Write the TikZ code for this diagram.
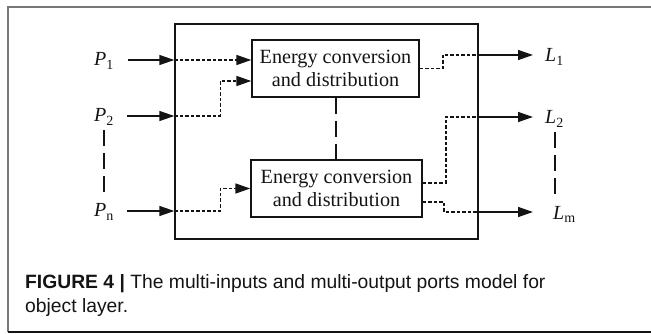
\documentclass[tikz,border=0pt]{standalone}
\usepackage{fontspec}
\setmainfont{Liberation Serif}
\newfontfamily\capfont{Liberation Sans}
\usetikzlibrary{positioning,arrows.meta}
\definecolor{frameGray}{RGB}{120, 120, 120}
\definecolor{inkBlack}{RGB}{20, 20, 20}

\tikzset{
  unitbox/.style={draw=inkBlack, line width=1.4pt, minimum width=167pt, minimum height=57pt,
    align=center, inner sep=0pt, font=\fontsize{20.2}{23}\selectfont},
  portlabel/.style={anchor=base west, inner sep=0pt, font=\fontsize{20}{22}\selectfont},
  feed/.style={line width=1.4pt, -{Triangle[length=15pt, width=10pt]}},
  flow/.style={line width=1.6pt, dash pattern=on 3.5pt off 2pt},
  gap/.style={line width=1.7pt, dash pattern=on 16pt off 7pt}
}

\begin{document}
\begin{tikzpicture}[x=1pt, y=-1pt, inkBlack]
  \useasboundingbox (0,0) rectangle (651,334);
  % figure frame
  \draw[frameGray, line width=1.4pt] (651,7) -- (8,7) -- (8,332);
  \draw[inkBlack, line width=1.4pt] (8,332) -- (651,332);

  % object layer
  \node[draw=inkBlack, line width=1.4pt, minimum width=303pt, minimum height=215pt] (obj) at (326.5,131.5) {};
  \node[unitbox] (u1) at (335.5,68.5) {Energy conversion\\and distribution};
  \node[unitbox, minimum width=171pt] (l1) at (336.5,188.5) {Energy conversion\\and distribution};

  % input ports
  \node[portlabel] (p1) at (94,66) {\textit{P}\textsubscript{1}};
  \node[portlabel] (p2) at (94,122) {\textit{P}\textsubscript{2}};
  \node[portlabel] (pn) at (94,217) {\textit{P}\textsubscript{n}};
  \coordinate (s1) at (128,60);
  \coordinate (s2) at (127,116);
  \coordinate (s3) at (127,211);
  \coordinate (in1) at (obj.west |- s1);
  \coordinate (in2) at (obj.west |- s2);
  \coordinate (in3) at (obj.west |- s3);

  % output ports
  \coordinate (out1) at (obj.east |- 0,55);
  \coordinate (out2) at (obj.east |- 0,117);
  \coordinate (out3) at (obj.east |- 0,212);
  \coordinate (e1) at (533,55);
  \coordinate (e2) at (533,117);
  \coordinate (e3) at (533,212);
  \node[portlabel] (q1) at (545,62) {\textit{L}\textsubscript{1}};
  \node[portlabel] (q2) at (545,124) {\textit{L}\textsubscript{2}};
  \node[portlabel] (qm) at (553,219) {\textit{L}\textsubscript{m}};

  % caption
  \node[anchor=west, align=left, inner sep=0pt, font=\capfont\fontsize{19.3}{24}\selectfont] (cap) at (25,296)
    {\textbf{FIGURE 4 |} The multi-inputs and multi-output ports model for\\object layer.};

  % solid port arrows
  \draw[feed] (s1) -- (in1);
  \draw[feed] (s2) -- (in2);
  \draw[feed] (s3) -- (in3);
  \draw[feed] (out1) -- (e1);
  \draw[feed] (out2) -- (e2);
  \draw[feed] (out3) -- (e3);

  % inner flows
  \draw[flow, -{Triangle[length=15pt, width=10pt]}] (in1) -- (in1 -| u1.west);
  \draw[flow, -{Triangle[length=15pt, width=10pt]}] (in2) -- ++(46,0) |- ([yshift=-12.5pt]u1.west);
  \draw[flow, -{Triangle[length=15pt, width=10pt]}] (in3) -- ++(46,0) |- (l1.west);
  \draw[flow] (u1.east) -- ++(23,0) |- (out1);
  \draw[flow] ([yshift=5.5pt]l1.east) -- ++(23,0) |- (out2);
  \draw[flow] ([yshift=-13.5pt]l1.east) -- ++(21,0) |- (out3);

  % ellipsis marks
  \draw[gap] (u1.south -| 336,0) -- (l1.north -| 336,0);
  \draw[gap] ([xshift=10pt, yshift=-5pt]p2.south west) -- ([xshift=10pt, yshift=10pt]pn.north west);
  \draw[gap] ([xshift=10pt, yshift=-5pt]q2.south west) -- ([xshift=2pt, yshift=10pt]qm.north west);
\end{tikzpicture}
\end{document}
